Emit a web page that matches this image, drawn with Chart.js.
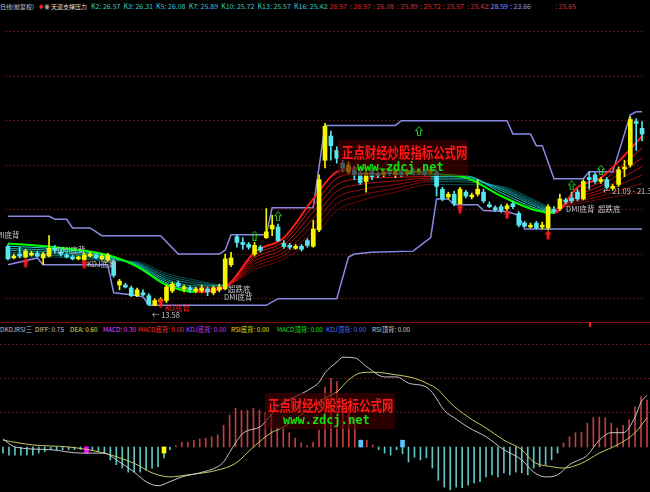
<!DOCTYPE html>
<html>
<head>
<meta charset="utf-8">
<script src="https://cdn.jsdelivr.net/npm/chart.js@4"></script>
<style>
  html, body { margin: 0; padding: 0; background: #000; }
  body { width: 650px; height: 492px; position: relative; overflow: hidden;
         font-family: "Noto Sans CJK SC", "DejaVu Sans", sans-serif; }
  canvas { position: absolute; left: 0; }
  #top { top: 14px; }
  #bot { top: 336px; }
  .t { position: absolute; white-space: nowrap; font-size: 7px; line-height: 9px; }
  .s { font-size: 6px; }
  .lg { position: absolute; white-space: nowrap; font-size: 6.4px; line-height: 9px; }
  .lbl { position: absolute; white-space: nowrap; font-size: 7.5px; line-height: 9px; color: #c8c8c8; }
  .wm { position: absolute; width: 130px; height: 36px; background: rgba(70, 0, 0, 0.62); }
  .wmr { position: absolute; white-space: nowrap; font-size: 15px; line-height: 17px; font-weight: bold;
         color: #ff1616; transform: scaleX(0.76); transform-origin: left top; }
  .wmg { position: absolute; white-space: nowrap; font-family: "DejaVu Sans Mono", monospace;
         font-size: 12px; line-height: 12px; font-weight: bold; color: #10e010; }
  #sep { position: absolute; left: 0; top: 322px; width: 650px; height: 1px; background: #7a1010; }
</style>
</head>
<body>
<canvas id="top" width="650" height="308"></canvas>
<canvas id="bot" width="650" height="156"></canvas>
<div id="sep"></div>
<div style="position:absolute;left:589px;top:322px;width:2px;height:5px;background:#ff2020"></div>

<!-- ligne d'en-tete -->
<span class="t s" style="left:0;top:2px;color:#c8c8c8">日线(前复权)</span>
<span class="t s" style="left:38px;top:2px;color:#ff2020">♦</span>
<span class="t s" style="left:44px;top:2px;color:#a0a0a0">◉</span>
<span class="t s" style="left:51px;top:2px;color:#e0e0e0">天道支撑压力</span>
<span class="t" style="left:91px;top:2px;color:#3cc8c8">K2: 26.57 &nbsp;K3: 26.31 &nbsp;K5: 26.08 &nbsp;K7: 25.89 &nbsp;K10: 25.72 &nbsp;K13: 25.57 &nbsp;K16: 25.42</span>
<span class="t" style="left:326px;top:2px;color:#e02828">: 26.57</span>
<span class="t" style="left:350px;top:2px;color:#e02828">: 26.57</span>
<span class="t" style="left:373px;top:2px;color:#e02828">: 26.08</span>
<span class="t" style="left:397px;top:2px;color:#e02828">: 25.89</span>
<span class="t" style="left:420px;top:2px;color:#e02828">: 25.72</span>
<span class="t" style="left:443px;top:2px;color:#e02828">: 25.57</span>
<span class="t" style="left:467px;top:2px;color:#e02828">: 25.42</span>
<span class="t" style="left:487px;top:2px;color:#9090ff">: 28.59</span>
<span class="t" style="left:510px;top:2px;color:#9090ff">: 23.66</span>
<span class="t" style="left:555px;top:2px;color:#e02828">: 25.65</span>

<!-- legende MACD -->
<span class="lg" style="left:0;top:325px;color:#c0c0c0">DKDJRSI三</span>
<span class="lg" style="left:35px;top:325px;color:#d0d0d0">DIFF: 0.75</span>
<span class="lg" style="left:70px;top:325px;color:#e0e040">DEA: 0.60</span>
<span class="lg" style="left:103px;top:325px;color:#ff40ff">MACD: 0.30</span>
<span class="lg" style="left:138px;top:325px;color:#ff3030">MACD底背: 0.00</span>
<span class="lg" style="left:186px;top:325px;color:#c040ff">KDJ底背: 0.00</span>
<span class="lg" style="left:231px;top:325px;color:#e0e000">RSI底背: 0.00</span>
<span class="lg" style="left:277px;top:325px;color:#20e020">MACD顶背: 0.00</span>
<span class="lg" style="left:326px;top:325px;color:#5070ff">KDJ顶背: 0.00</span>
<span class="lg" style="left:372px;top:325px;color:#d0d0d0">RSI顶背: 0.00</span>

<!-- etiquettes du graphique -->
<span class="lbl" style="left:-9px;top:230px">DMI底背</span>
<span class="lbl" style="left:57px;top:245px">DMI底背</span>
<span class="lbl" style="left:87px;top:259px">KDJ底背</span>
<span class="lbl" style="left:228px;top:284px">超跌底</span>
<span class="lbl" style="left:224px;top:292px">DMI底背</span>
<span class="lbl" style="left:566px;top:204px">DMI底背</span>
<span class="lbl" style="left:598px;top:204px">超跌底</span>
<span class="lbl" style="left:152px;top:310px">← 13.58</span>
<span class="lbl" style="left:165px;top:303px;color:#ff2020">KD底背</span>
<span class="lbl" style="left:603px;top:186px">← 21.09 - 21.36</span>

<div class="wm" style="left:338px;top:140px"></div>
<span class="wmr" style="left:342px;top:143px">正点财经炒股指标公式网</span>
<span class="wmg" style="left:357px;top:161px">www.zdcj.net</span>
<div class="wm" style="left:265px;top:393px"></div>
<span class="wmr" style="left:268px;top:396px">正点财经炒股指标公式网</span>
<span class="wmg" style="left:283px;top:414px">www.zdcj.net</span>

<script>
// ---- donnees ----
const days = Array.from({ length: 109 }, (_, i) => i);

const opens = [
  17.44, 16.69, 16.94, 16.75, 16.88, 17.00, 16.69, 16.81, 17.31, 17.06,
  16.88, 16.75, 16.63, 16.56, 16.81, 16.88, 16.63, 16.56, 16.44, 14.94,
  14.94, 14.75, 14.25, 14.44, 14.25, 13.63, 13.88, 13.94, 14.56, 15.06,
  14.69, 14.75, 14.56, 14.56, 14.69, 14.44, 14.63, 14.69, 16.25, 18.06,
  17.69, 17.56, 16.94, 17.38, 18.00, 18.56, 18.69, 17.63, 17.50, 17.31,
  17.44, 17.81, 17.44, 18.50, 23.00, 24.56, 23.63, 22.81, 22.25, 22.38,
  22.19, 21.63, 22.25, 22.13, 22.06, 22.25, 22.06, 22.25, 22.13, 22.38,
  22.25, 22.31, 22.25, 22.25, 21.13, 20.63, 20.81, 20.19, 20.94, 20.63,
  20.81, 20.94, 20.13, 19.94, 20.00, 19.88, 20.19, 19.56, 18.94, 18.69,
  18.94, 18.69, 18.63, 19.81, 19.88, 20.44, 20.56, 20.94, 20.50, 21.88,
  22.06, 21.63, 21.75, 21.19, 21.44, 22.44, 22.69, 25.50, 25.06
];
const highs = [
  17.56, 16.94, 17.38, 17.25, 17.13, 17.13, 17.06, 18.13, 17.50, 17.19,
  17.00, 16.88, 16.81, 17.00, 17.06, 17.00, 16.94, 17.00, 16.56, 15.31,
  15.06, 14.88, 14.75, 14.63, 14.38, 14.06, 14.13, 14.94, 15.13, 15.19,
  14.94, 14.88, 14.81, 14.94, 14.81, 14.88, 15.00, 16.94, 17.06, 18.19,
  18.00, 17.69, 17.69, 17.50, 19.88, 19.44, 18.88, 17.81, 17.63, 17.56,
  17.56, 17.94, 19.13, 22.06, 25.38, 24.88, 23.88, 23.00, 22.88, 22.63,
  22.38, 22.38, 22.38, 22.25, 22.38, 22.38, 22.44, 22.38, 22.44, 22.50,
  22.50, 22.44, 22.50, 22.38, 21.25, 20.94, 21.00, 21.25, 21.06, 20.88,
  21.75, 21.13, 20.31, 20.06, 20.13, 20.19, 20.31, 19.69, 19.06, 18.94,
  19.06, 19.00, 20.13, 20.00, 20.81, 20.56, 20.94, 21.13, 21.75, 22.25,
  22.19, 21.88, 21.88, 21.44, 22.56, 23.00, 25.81, 25.69, 25.50
];
const lows = [
  16.56, 16.63, 16.69, 16.69, 16.81, 16.75, 16.25, 16.75, 17.00, 16.81,
  16.69, 16.56, 16.56, 16.50, 16.75, 16.63, 16.56, 16.44, 15.44, 14.63,
  14.75, 14.19, 14.19, 14.25, 13.63, 13.60, 13.58, 13.81, 14.44, 14.81,
  14.50, 14.44, 14.44, 14.44, 14.25, 14.31, 14.50, 14.63, 16.13, 17.38,
  17.25, 17.25, 16.81, 17.06, 17.94, 18.13, 17.75, 17.31, 17.25, 17.25,
  17.13, 17.38, 17.38, 18.38, 22.50, 23.00, 22.81, 22.25, 22.13, 21.75,
  21.44, 20.94, 21.75, 21.88, 21.94, 22.00, 21.88, 21.94, 22.00, 22.06,
  22.13, 22.00, 22.13, 20.69, 20.38, 20.50, 20.06, 20.06, 20.56, 20.50,
  20.69, 20.25, 19.94, 19.69, 19.63, 19.75, 19.88, 18.69, 18.69, 18.63,
  18.56, 18.56, 18.50, 19.56, 19.75, 20.19, 20.25, 20.38, 20.44, 21.13,
  21.50, 21.50, 21.13, 21.06, 21.31, 21.94, 22.56, 23.63, 24.25
];
const closes = [
  16.63, 16.81, 16.81, 17.13, 17.00, 16.81, 16.94, 17.31, 17.19, 16.94,
  16.75, 16.63, 16.75, 16.88, 16.94, 16.69, 16.81, 16.88, 15.56, 15.19,
  14.81, 14.25, 14.63, 14.31, 13.69, 13.94, 14.00, 14.81, 15.00, 14.88,
  14.81, 14.63, 14.69, 14.75, 14.50, 14.75, 14.81, 16.63, 16.69, 17.69,
  17.56, 17.38, 17.50, 17.19, 18.38, 18.81, 17.81, 17.44, 17.38, 17.44,
  17.25, 17.50, 18.56, 21.75, 25.19, 23.94, 23.13, 22.50, 22.69, 22.06,
  21.56, 22.19, 21.94, 22.00, 22.25, 22.13, 22.31, 22.06, 22.31, 22.19,
  22.38, 22.13, 22.38, 21.31, 20.50, 20.81, 20.19, 21.13, 20.69, 20.75,
  21.13, 20.38, 20.00, 19.81, 19.75, 20.06, 20.00, 18.81, 18.75, 18.81,
  18.63, 18.81, 20.00, 19.69, 20.50, 20.31, 20.38, 20.50, 21.63, 21.75,
  21.63, 21.75, 21.25, 21.31, 22.38, 22.56, 25.63, 25.38, 24.69
];

// bandes du canal [indice, prix]
const upperBand = [
  [0, 19.38], [7, 19.38], [8, 19.19], [10, 19.19], [11, 18.63], [14, 18.63], [16, 18.13],
  [26, 18.13], [29, 16.94], [36, 16.94], [37, 17.19], [38, 18.19], [44, 18.19], [45, 19.94],
  [52, 19.94], [54, 25.25], [66, 25.25], [67, 25.56], [85, 25.56], [86, 24.69], [89, 24.69],
  [90, 23.94], [91, 23.94], [93, 21.81], [98, 21.81], [99, 22.25], [103, 22.25], [106, 25.94],
  [107, 26.13], [108, 26.13]
];
const lowerBand = [
  [0, 16.25], [5, 16.69], [6, 16.25], [17, 16.25], [18, 14.44], [21, 14.31], [23, 14.19],
  [24, 13.63], [44, 13.63], [46, 14.06], [56, 14.06], [58, 16.75], [59, 16.94], [62, 17.06],
  [69, 17.13], [72, 18.00], [73, 20.50], [75, 20.50], [76, 20.13], [80, 20.13], [81, 19.75],
  [85, 19.69], [87, 19.44], [88, 18.56], [108, 18.56]
];

// faisceau de moyennes, points cles
const ribbonKeys = [0, 8, 17, 22, 27, 32, 37, 42, 47, 52, 56, 60, 66, 72, 78, 84, 90, 93, 97, 101, 105, 108];
const ma1 = [17.63, 17.38, 16.88, 16.13, 14.94, 14.50, 14.81, 17.06, 18.00, 20.50, 22.25, 22.50, 22.38, 22.13, 21.88, 20.69, 19.75, 19.60, 21.25, 21.88, 23.31, 24.56];
const ma2 = [17.45, 17.28, 16.82, 16.18, 15.06, 14.63, 14.83, 16.87, 17.77, 20.08, 21.83, 22.15, 22.14, 22.05, 22.00, 20.90, 19.88, 19.65, 20.95, 21.60, 22.80, 23.80];
const ma3 = [17.30, 17.17, 16.75, 16.23, 15.19, 14.75, 14.85, 16.69, 17.54, 19.67, 21.42, 21.79, 21.90, 21.95, 21.92, 21.05, 20.00, 19.70, 20.75, 21.35, 22.35, 23.15];
const ma4 = [17.18, 17.06, 16.69, 16.29, 15.31, 14.88, 14.87, 16.50, 17.31, 19.25, 21.00, 21.44, 21.66, 21.85, 21.82, 21.15, 20.10, 19.75, 20.60, 21.10, 21.95, 22.60];
const ma5 = [17.02, 16.96, 16.62, 16.34, 15.44, 15.00, 14.90, 16.31, 17.09, 18.83, 20.58, 21.09, 21.42, 21.75, 21.72, 21.22, 20.20, 19.80, 20.45, 20.90, 21.55, 22.05];
const ma6 = [16.88, 16.85, 16.56, 16.39, 15.56, 15.13, 14.92, 16.13, 16.86, 18.42, 20.17, 20.73, 21.18, 21.62, 21.60, 21.28, 20.30, 19.85, 20.32, 20.70, 21.15, 21.50];
const ma7 = [16.75, 16.75, 16.50, 16.44, 15.69, 15.25, 14.94, 15.94, 16.63, 18.00, 19.75, 20.38, 20.94, 21.44, 21.42, 21.32, 20.38, 19.90, 20.19, 20.50, 20.75, 21.00];

// signaux
const buyIdx = [3, 13, 26, 77, 85, 92];
const buyVal = [16.38, 16.31, 13.81, 19.88, 19.50, 18.19];
const upIdx = [42, 46, 70, 96, 101];
const upVal = [18.13, 19.38, 24.88, 21.38, 22.38];

// MACD
const macdHist = [
  -0.09, -0.12, -0.12, -0.12, -0.12, -0.12, -0.09, -0.07, -0.04, -0.04,
  -0.04, -0.04, -0.04, -0.04, -0.09, -0.04, -0.06, -0.09, -0.19, -0.26,
  -0.31, -0.37, -0.37, -0.37, -0.34, -0.31, -0.29, -0.16, -0.04, 0.02,
  0.07, 0.07, 0.10, 0.12, 0.13, 0.15, 0.18, 0.32, 0.47, 0.57,
  0.54, 0.54, 0.57, 0.54, 0.51, 0.47, 0.29, 0.28, 0.21, 0.13,
  0.06, 0.02, 0.07, 0.25, 0.88, 1.01, 0.96, 0.69, 0.59, 0.44,
  0.10, 0.10, 0.03, -0.04, -0.09, -0.12, -0.04, -0.10, -0.22, -0.15,
  -0.19, -0.16, -0.31, -0.49, -0.59, -0.63, -0.59, -0.60, -0.56, -0.53,
  -0.51, -0.44, -0.41, -0.44, -0.38, -0.41, -0.37, -0.38, -0.41, -0.31,
  -0.29, -0.26, -0.19, -0.09, 0.06, 0.15, 0.21, 0.22, 0.35, 0.43,
  0.44, 0.43, 0.35, 0.28, 0.32, 0.40, 0.59, 0.74, 0.69
];
const diffLine = [
  [0, 0.12], [2, 0.00], [8, -0.04], [13, -0.09], [17, -0.09], [19, -0.19], [22, -0.37],
  [24, -0.51], [26, -0.57], [28, -0.51], [30, -0.44], [33, -0.38], [36, -0.29], [37, -0.22],
  [38, -0.08], [39, 0.06], [40, 0.18], [41, 0.24], [43, 0.29], [44, 0.37], [46, 0.59],
  [48, 0.70], [50, 0.78], [52, 0.88], [53, 0.95], [54, 1.09], [56, 1.25], [57, 1.32],
  [59, 1.31], [61, 1.18], [64, 1.03], [66, 1.03], [68, 0.94], [71, 0.88], [72, 0.80],
  [74, 0.54], [76, 0.41], [78, 0.29], [81, 0.15], [84, -0.04], [87, -0.19], [89, -0.37],
  [91, -0.44], [93, -0.41], [95, -0.26], [98, -0.12], [100, 0.10], [102, 0.21], [104, 0.21],
  [106, 0.44], [107, 0.66], [108, 0.76]
];
const deaLine = [
  [0, 0.10], [5, 0.03], [11, 0.00], [16, -0.07], [22, -0.24], [25, -0.38], [28, -0.44],
  [31, -0.41], [36, -0.34], [39, -0.24], [42, 0.00], [45, 0.21], [47, 0.29], [50, 0.47],
  [54, 0.72], [56, 0.81], [58, 0.99], [60, 1.09], [62, 1.10], [66, 1.06], [69, 1.01],
  [71, 0.94], [73, 0.84], [75, 0.65], [78, 0.44], [81, 0.28], [84, 0.10], [87, -0.04],
  [89, -0.22], [92, -0.29], [94, -0.31], [97, -0.24], [100, -0.09], [103, 0.03], [106, 0.21],
  [108, 0.43]
];
const macdMarkIdx = [14, 27, 60, 67];
const macdMarkVal = [-0.09, -0.09, 0.10, 0.10];
const macdMarkColors = ['#ff00ff', '#ffff00', '#50c8ff', '#50c8ff'];

const priceGrid = [14.06, 16.94, 19.81, 22.69, 25.56, 28.44, 31.31];
const macdGrid = [0.5, 1.0, 1.5];

// ---- styles ----
const UP = '#f5f500', DOWN = '#55e6ee';
const riseColors = ['#ff1a1a', '#e01616', '#c81212', '#b01010', '#980c0c', '#840a0a', '#700808'];
const fallColors = ['#00ff00', '#20d8d0', '#18b8b0', '#149a98', '#107c7c', '#0c6464', '#084e4e'];
const GRID = '#5c1010';

function pairs(list) { return list.map(([x, y]) => ({ x, y })); }

function arrowImg(fill) {
  const c = document.createElement('canvas');
  c.width = 8; c.height = 10;
  const g = c.getContext('2d');
  g.beginPath();
  g.moveTo(4, 0.5); g.lineTo(7.5, 4.5); g.lineTo(5.5, 4.5); g.lineTo(5.5, 9.5);
  g.lineTo(2.5, 9.5); g.lineTo(2.5, 4.5); g.lineTo(0.5, 4.5); g.closePath();
  if (fill) { g.fillStyle = '#ff1a1a'; g.fill(); }
  else { g.strokeStyle = '#22cc22'; g.lineWidth = 1; g.stroke(); }
  return c;
}

function yAxis(min, max, grid) {
  return {
    min, max,
    ticks: { display: false },
    grid: { color: GRID, drawTicks: false },
    border: { display: false, dash: [2, 2] },
    afterBuildTicks: axis => { axis.ticks = grid.map(v => ({ value: v })); },
    afterFit: s => { s.width = 0; }
  };
}

const baseOptions = {
  responsive: false,
  animation: false,
  layout: { padding: 0 },
  plugins: { legend: { display: false }, tooltip: { enabled: false } },
  events: []
};

const candleColors = opens.map((o, i) => (closes[i] >= o ? UP : DOWN));
const ribbons = [ma1, ma2, ma3, ma4, ma5, ma6, ma7];

const ribbonSets = ribbons.map((vals, k) => ({
  type: 'line',
  label: 'MA' + (k + 1),
  data: ribbonKeys.map((x, j) => ({ x, y: vals[j] })),
  borderWidth: k === 0 ? 2 : 1,
  pointRadius: 0,
  cubicInterpolationMode: 'monotone',
  borderColor: fallColors[k],
  segment: {
    borderColor: ctx => (ctx.p1.parsed.y > ctx.p0.parsed.y ? riseColors[k] : fallColors[k])
  },
  order: 4
}));

new Chart(document.getElementById('top'), {
  type: 'bar',
  data: {
    labels: days,
    datasets: [
      { type: 'line', label: 'upper', data: pairs(upperBand), borderColor: '#8a8ae6',
        borderWidth: 1.5, pointRadius: 0, tension: 0, order: 5 },
      { type: 'line', label: 'lower', data: pairs(lowerBand), borderColor: '#8a8ae6',
        borderWidth: 1.5, pointRadius: 0, tension: 0, order: 5 },
      ...ribbonSets,
      { label: 'wick', data: lows.map((l, i) => [l, highs[i]]), backgroundColor: candleColors,
        barThickness: 1, grouped: false, order: 2 },
      { label: 'body', data: opens.map((o, i) => [o, closes[i]]), backgroundColor: candleColors,
        barThickness: 4, minBarLength: 1, grouped: false, order: 1 },
      { type: 'line', label: 'buy', data: buyIdx.map((x, j) => ({ x, y: buyVal[j] })),
        showLine: false, pointStyle: arrowImg(true), order: 0 },
      { type: 'line', label: 'up', data: upIdx.map((x, j) => ({ x, y: upVal[j] })),
        showLine: false, pointStyle: arrowImg(false), order: 0 }
    ]
  },
  options: {
    ...baseOptions,
    scales: {
      x: { display: false },
      y: yAxis(12.875, 32.125, priceGrid)
    }
  }
});

new Chart(document.getElementById('bot'), {
  type: 'bar',
  data: {
    labels: days,
    datasets: [
      { type: 'line', label: 'DIFF', data: pairs(diffLine), borderColor: '#c8c8c8', borderWidth: 1,
        pointRadius: 0, cubicInterpolationMode: 'monotone', order: 0 },
      { type: 'line', label: 'DEA', data: pairs(deaLine), borderColor: '#c8c864', borderWidth: 1,
        pointRadius: 0, cubicInterpolationMode: 'monotone', order: 0 },
      { label: 'MACD', data: macdHist,
        backgroundColor: macdHist.map(v => (v >= 0 ? '#c43c3c' : '#5ec4c4')),
        barThickness: 1, grouped: false, order: 2 },
      { label: 'mark', data: macdMarkIdx.map((x, j) => ({ x, y: [0, macdMarkVal[j]] })),
        backgroundColor: macdMarkColors, barThickness: 4, grouped: false, order: 1 }
    ]
  },
  options: {
    ...baseOptions,
    scales: {
      x: { display: false },
      y: yAxis(-0.662, 1.632, macdGrid)
    }
  }
});
</script>
</body>
</html>
